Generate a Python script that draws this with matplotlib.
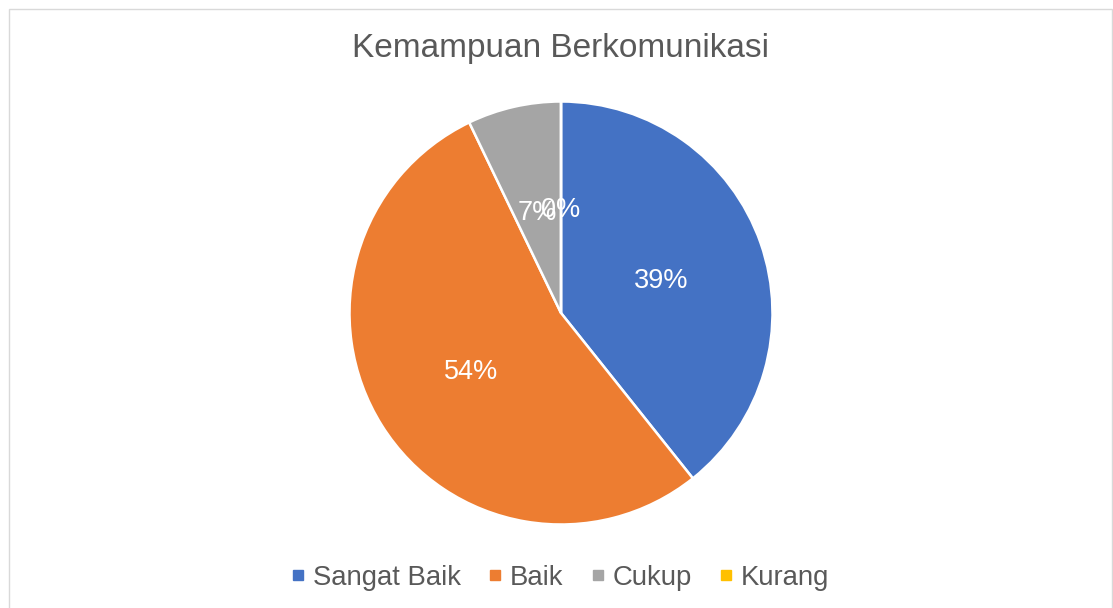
import matplotlib
matplotlib.use("Agg")
import matplotlib.pyplot as plt
from matplotlib.lines import Line2D
from matplotlib.patches import Rectangle

plt.rcParams['font.family'] = ['Liberation Sans', 'DejaVu Sans']

title = "Kemampuan Berkomunikasi"
categories = ["Sangat Baik", "Baik", "Cukup", "Kurang"]
values = [11, 15, 2, 0]
colors = ["#4472C4", "#ED7D31", "#A5A5A5", "#FFC000"]

W, H = 1113, 608
fig = plt.figure(figsize=(W / 100, H / 100), dpi=100)
ax = fig.add_axes([0, 0, 1, 1])

wedges, texts, autotexts = ax.pie(
    values, colors=colors, startangle=90, counterclock=False,
    center=(561, H - 313), radius=211.5,
    autopct=lambda p: f"{p:.0f}%", pctdistance=0.5,
    wedgeprops=dict(edgecolor="white", linewidth=1.8),
    textprops=dict(color="white", fontsize=19.5),
)
for t in autotexts:
    t.set_verticalalignment('center_baseline')
ax.set_xlim(0, W)
ax.set_ylim(0, H)
ax.set_aspect('equal')
ax.axis('off')

# chart border
fig.patches.append(Rectangle((8.5 / W, -0.01), (1111.5 - 8.5) / W, 1 - 8.5 / H + 0.01,
                             transform=fig.transFigure, fill=False,
                             edgecolor="#D9D9D9", linewidth=1.0))

ax.text(561, H - 48, title, ha='center', va='center', fontsize=24, color="#595959")

handles = [Line2D([], [], marker='s', linestyle='none', markersize=7.2,
                  markerfacecolor=c, markeredgecolor=c) for c in colors]
ax.legend(handles, categories, loc='center', bbox_to_anchor=(561 / W, 1 - 578 / H),
          bbox_transform=fig.transFigure, ncol=4, frameon=False,
          fontsize=19.8, labelcolor="#595959", handlelength=0.4,
          handletextpad=0.33, columnspacing=1.05)

fig.savefig("out.png", dpi=100)
